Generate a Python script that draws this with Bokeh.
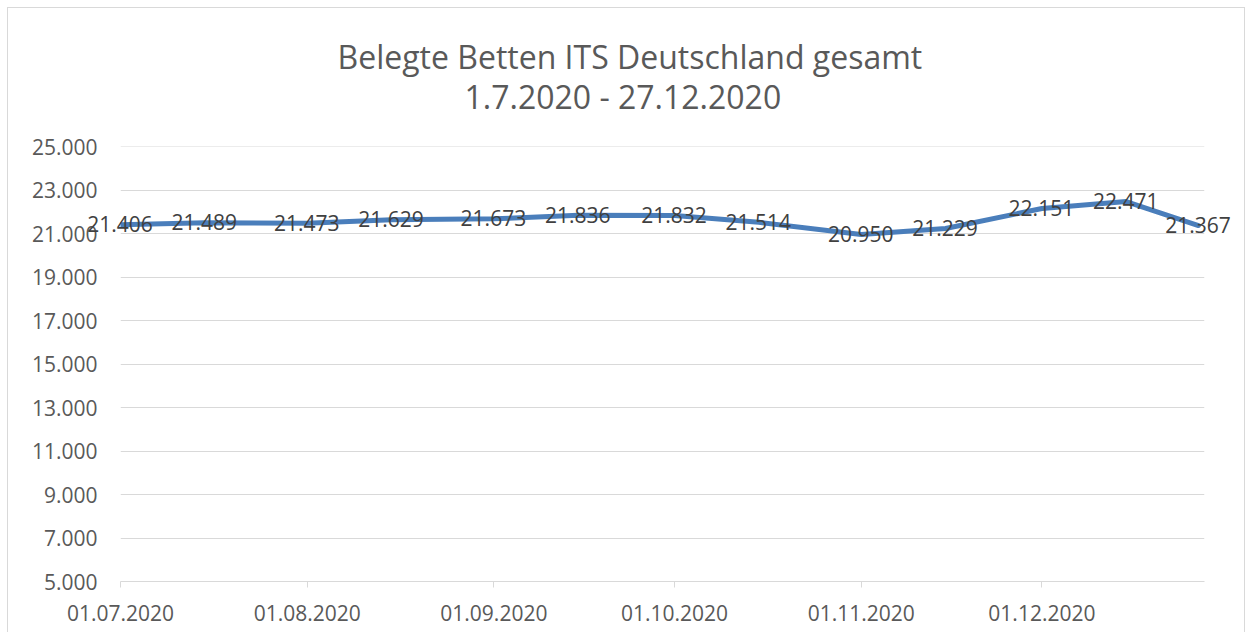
from datetime import datetime
from bokeh.plotting import figure
from bokeh.models import Range1d, FixedTicker, DatetimeTickFormatter, Title, HTMLLabelSet, ColumnDataSource
from bokeh.core.properties import value
from bokeh.embed import file_html
from bokeh.resources import INLINE

# ---- data ----
dates = [datetime(2020, 7, 1), datetime(2020, 7, 15), datetime(2020, 8, 1), datetime(2020, 8, 15),
         datetime(2020, 9, 1), datetime(2020, 9, 15), datetime(2020, 10, 1), datetime(2020, 10, 15),
         datetime(2020, 11, 1), datetime(2020, 11, 15), datetime(2020, 12, 1), datetime(2020, 12, 15),
         datetime(2020, 12, 27)]
beds = [21406, 21489, 21473, 21629, 21673, 21836, 21832, 21514, 20950, 21229, 22151, 22471, 21367]
y_ticks = [5000, 7000, 9000, 11000, 13000, 15000, 17000, 19000, 21000, 23000, 25000]
x_ticks = [datetime(2020, 7, 1), datetime(2020, 8, 1), datetime(2020, 9, 1),
           datetime(2020, 10, 1), datetime(2020, 11, 1), datetime(2020, 12, 1)]
title_lines = ["Belegte Betten ITS Deutschland gesamt", "1.7.2020 - 27.12.2020"]


def de(n):
    return f"{n:,}".replace(",", ".")


def ms(d):
    return (d - datetime(1970, 1, 1)).total_seconds() * 1000.0


FONT = "Open Sans"
AXIS_COL = "#595959"
GRID_COL = "#d9d9d9"
LINE_COL = "#4A7EBB"

x_start, x_end = datetime(2020, 7, 1), datetime(2020, 12, 28)

p = figure(width=1238, height=625, x_axis_type="datetime",
           x_range=Range1d(x_start, x_end), y_range=Range1d(5000, 25000.5),
           output_backend="svg", toolbar_location=None,
           min_border_left=112, min_border_right=42, min_border_top=138, min_border_bottom=52)
p.styles = {"margin-left": "7px", "margin-top": "7px",
            "border-left": "1px solid #d9d9d9", "border-top": "1px solid #d9d9d9",
            "border-right": "1px solid #d9d9d9"}
p.outline_line_color = None
p.background_fill_color = "white"
p.border_fill_color = "white"

src = ColumnDataSource(dict(x=dates, y=beds, label=[de(v) for v in beds]))
p.line("x", "y", source=src, line_color=LINE_COL, line_width=5, line_join="round", line_cap="round")
p.add_layout(HTMLLabelSet(x="x", y="y", text="label", source=src, text_font=value(FONT),
                          text_font_size="21px", text_color="#404040",
                          text_align="center", text_baseline="middle"))

# x axis
xa = p.xaxis[0]
xa.ticker = FixedTicker(ticks=[ms(d) for d in x_ticks])
fmt = "%d.%m.%Y"
xa.formatter = DatetimeTickFormatter(milliseconds=fmt, seconds=fmt, minsec=fmt, minutes=fmt,
                                     hourmin=fmt, hours=fmt, days=fmt, months=fmt, years=fmt)
xa.minor_tick_line_color = None
xa.axis_line_color = GRID_COL
xa.axis_line_width = 1
xa.major_tick_line_color = GRID_COL
xa.major_tick_in = 0
xa.major_tick_out = 6
xa.major_label_standoff = 17
xa.major_label_text_font = FONT
xa.major_label_text_font_size = "21px"
xa.major_label_text_color = AXIS_COL

# y axis
ya = p.yaxis[0]
ya.ticker = FixedTicker(ticks=y_ticks)
ya.major_label_overrides = {t: de(t) for t in y_ticks}
ya.axis_line_color = None
ya.major_tick_line_color = None
ya.minor_tick_line_color = None
ya.major_tick_in = 0
ya.major_tick_out = 0
ya.major_label_standoff = 23
ya.major_label_text_font = FONT
ya.major_label_text_font_size = "21px"
ya.major_label_text_color = AXIS_COL

p.xgrid.grid_line_color = None
p.ygrid.ticker = FixedTicker(ticks=y_ticks)
p.ygrid.grid_line_color = GRID_COL
p.ygrid.grid_line_width = 1

# two-line title centred on the whole chart (second line nearest the plot area)
p.add_layout(Title(text=title_lines[1], align="left", offset=344, text_font=FONT, text_font_size="32px",
                   text_color=AXIS_COL, text_font_style="normal", standoff=56.4), "above")
p.add_layout(Title(text=title_lines[0], align="left", offset=217, text_font=FONT, text_font_size="32px",
                   text_color=AXIS_COL, text_font_style="normal", standoff=-65.6), "above")

open("out.html", "w").write(file_html(p, INLINE))
